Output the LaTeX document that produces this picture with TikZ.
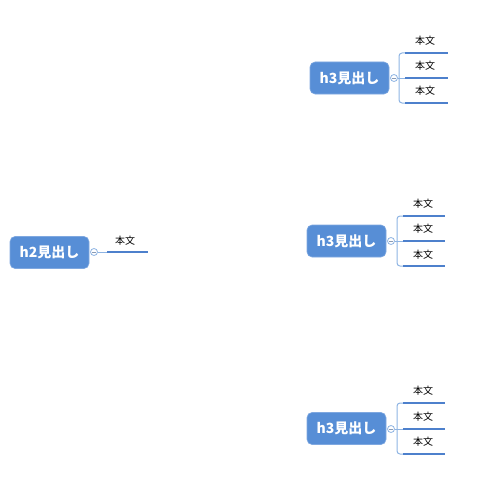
\documentclass[tikz,border=0pt]{standalone}
\usepackage{fontspec}
\newfontfamily\jp{Noto Sans CJK JP}
\definecolor{boxblue}{HTML}{578ED6}
\definecolor{boxedge}{HTML}{7FA8E0}
\definecolor{lineblue}{HTML}{4D80CC}
\definecolor{thinblue}{HTML}{8EB4E3}
\definecolor{minusgray}{HTML}{8A9BB5}
\tikzset{
  head/.style={fill=boxblue, draw=boxedge, line width=0.6pt, rounded corners=5pt,
    minimum width=79pt, minimum height=32pt, inner sep=0pt, text=white,
    font=\jp\bfseries\fontsize{14}{16}\selectfont},
  toggle/.style={circle, draw=thinblue, fill=white, line width=0.8pt, minimum size=7pt, inner sep=0pt,
    path picture={\draw[minusgray, line width=0.7pt] ([xshift=-2pt]path picture bounding box.center) -- ([xshift=2pt]path picture bounding box.center);}},
  txt/.style={font=\jp\fontsize{10}{12}\selectfont, inner sep=0pt, text=black},
  conn/.style={draw=thinblue, line width=1pt},
  body/.style={draw=lineblue, line width=2.4pt},
}
\begin{document}
\begin{tikzpicture}[x=1pt,y=-1pt]
\useasboundingbox (0,0) rectangle (500,503);

% h2 group
\node[head] (h2) at (49.5,252.5) {h2見出し};
\node[toggle] (h2c) at (94,252) {};
\coordinate (h2s) at (107,252);
\coordinate (h2e) at (148,252);
\draw[conn] (h2c.east) -- (h2s);
\draw[body] (h2s) -- (h2e);
\node[txt] (h2t) at (125,240.5) {本文};

% top h3 group
\node[head] (a) at (349.5,78) {h3見出し};
\node[toggle] (ac) at (394,78) {};
\coordinate (aj) at (399,78);
\coordinate (a1s) at (405,53);  \coordinate (a1e) at (448,53);
\coordinate (a2s) at (405,78);  \coordinate (a2e) at (448,78);
\coordinate (a3s) at (405,103); \coordinate (a3e) at (448,103);
\draw[conn] (ac.east) -- (a2s);
\draw[conn, rounded corners=3pt] (a1s) -| (aj) |- (a3s);
\draw[body] (a1s) -- (a1e);
\draw[body] (a2s) -- (a2e);
\draw[body] (a3s) -- (a3e);
\node[txt] (a1) at (425,41) {本文};
\node[txt] (a2) at (425,66) {本文};
\node[txt] (a3) at (425,91) {本文};

% middle h3 group
\node[head] (b) at (346.5,241) {h3見出し};
\node[toggle] (bc) at (391,241) {};
\coordinate (bj) at (397,241);
\coordinate (b1s) at (403,216);  \coordinate (b1e) at (445,216);
\coordinate (b2s) at (403,241);  \coordinate (b2e) at (445,241);
\coordinate (b3s) at (403,266);  \coordinate (b3e) at (445,266);
\draw[conn] (bc.east) -- (b2s);
\draw[conn, rounded corners=3pt] (b1s) -| (bj) |- (b3s);
\draw[body] (b1s) -- (b1e);
\draw[body] (b2s) -- (b2e);
\draw[body] (b3s) -- (b3e);
\node[txt] (b1) at (423,203.5) {本文};
\node[txt] (b2) at (423,229) {本文};
\node[txt] (b3) at (423,254.5) {本文};

% bottom h3 group
\node[head] (c) at (346.5,428.5) {h3見出し};
\node[toggle] (cc) at (391,429) {};
\coordinate (cj) at (397,429);
\coordinate (c1s) at (403,403);  \coordinate (c1e) at (445,403);
\coordinate (c2s) at (403,429);  \coordinate (c2e) at (445,429);
\coordinate (c3s) at (403,454);  \coordinate (c3e) at (445,454);
\draw[conn] (cc.east) -- (c2s);
\draw[conn, rounded corners=3pt] (c1s) -| (cj) |- (c3s);
\draw[body] (c1s) -- (c1e);
\draw[body] (c2s) -- (c2e);
\draw[body] (c3s) -- (c3e);
\node[txt] (c1) at (423,391) {本文};
\node[txt] (c2) at (423,416.5) {本文};
\node[txt] (c3) at (423,442) {本文};
\end{tikzpicture}
\end{document}
